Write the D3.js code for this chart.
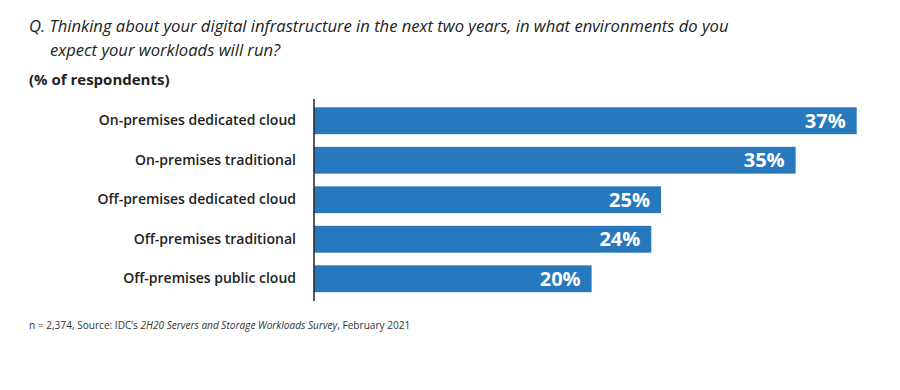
<!DOCTYPE html>
<html><head><meta charset="utf-8">
<script src="https://cdn.jsdelivr.net/npm/d3@7"></script>
<style>body{margin:0;background:#fff;}svg{display:block;font-family:"Open Sans",sans-serif;}</style>
</head><body>
<svg id="c" width="900" height="390"></svg>
<script>
const categories = ["On-premises dedicated cloud","On-premises traditional","Off-premises dedicated cloud","Off-premises traditional","Off-premises public cloud"];
const values = [39.1, 34.7, 25.0, 24.3, 20.0];
const valueLabels = ["37%","35%","25%","24%","20%"];
const titleLines = ["Q. Thinking about your digital infrastructure in the next two years, in what environments do you","expect your workloads will run?"];
const subtitle = "(% of respondents)";

const svg = d3.select("#c");
const x0 = 314;
const x = d3.scaleLinear().domain([0, 40]).range([x0, x0 + 40*13.88]);
const y = d3.scaleBand().domain(categories).range([101, 298.5]).paddingInner(0.32).paddingOuter(0.16);

svg.append("text").attr("x",29).attr("y",32).attr("font-size",16.6).attr("font-style","italic").attr("fill","#222").text(titleLines[0]);
svg.append("text").attr("x",50).attr("y",56).attr("font-size",16.6).attr("font-style","italic").attr("fill","#222").text(titleLines[1]);
svg.append("text").attr("x",29).attr("y",85).attr("font-size",15).attr("font-weight",700).attr("fill","#222").text(subtitle);

svg.selectAll("rect.bar").data(categories).enter().append("rect").attr("class","bar")
  .attr("x", x(0)).attr("y", d=>y(d)).attr("height", y.bandwidth())
  .attr("width", (d,i)=>x(values[i])-x(0)).attr("fill","#2878bd");

svg.selectAll("text.vl").data(categories).enter().append("text").attr("class","vl")
  .attr("x",(d,i)=>x(values[i])-11).attr("y",d=>y(d)+y.bandwidth()/2).attr("dy","0.36em")
  .attr("text-anchor","end").attr("font-size",20).attr("font-weight",700).attr("fill","#fff")
  .text((d,i)=>valueLabels[i]);

const yAxis = d3.axisLeft(y).tickSize(0).tickPadding(18);
const g = svg.append("g").attr("transform",`translate(${x0},0)`).call(yAxis);
g.select(".domain").remove();
g.selectAll("text").attr("font-size",14).attr("font-weight",600).attr("fill","#222").attr("font-family","'Open Sans',sans-serif");
svg.append("line").attr("x1",x0).attr("x2",x0).attr("y1",99).attr("y2",301).attr("stroke","#222").attr("stroke-width",1.5);

const foot = svg.append("text").attr("x",29).attr("y",329).attr("font-size",10.1).attr("fill","#333");
foot.append("tspan").text("n = 2,374, Source: IDC\u2019s ");
foot.append("tspan").attr("font-style","italic").text("2H20 Servers and Storage Workloads Survey");
foot.append("tspan").text(", February 2021");
</script>
</body></html>
